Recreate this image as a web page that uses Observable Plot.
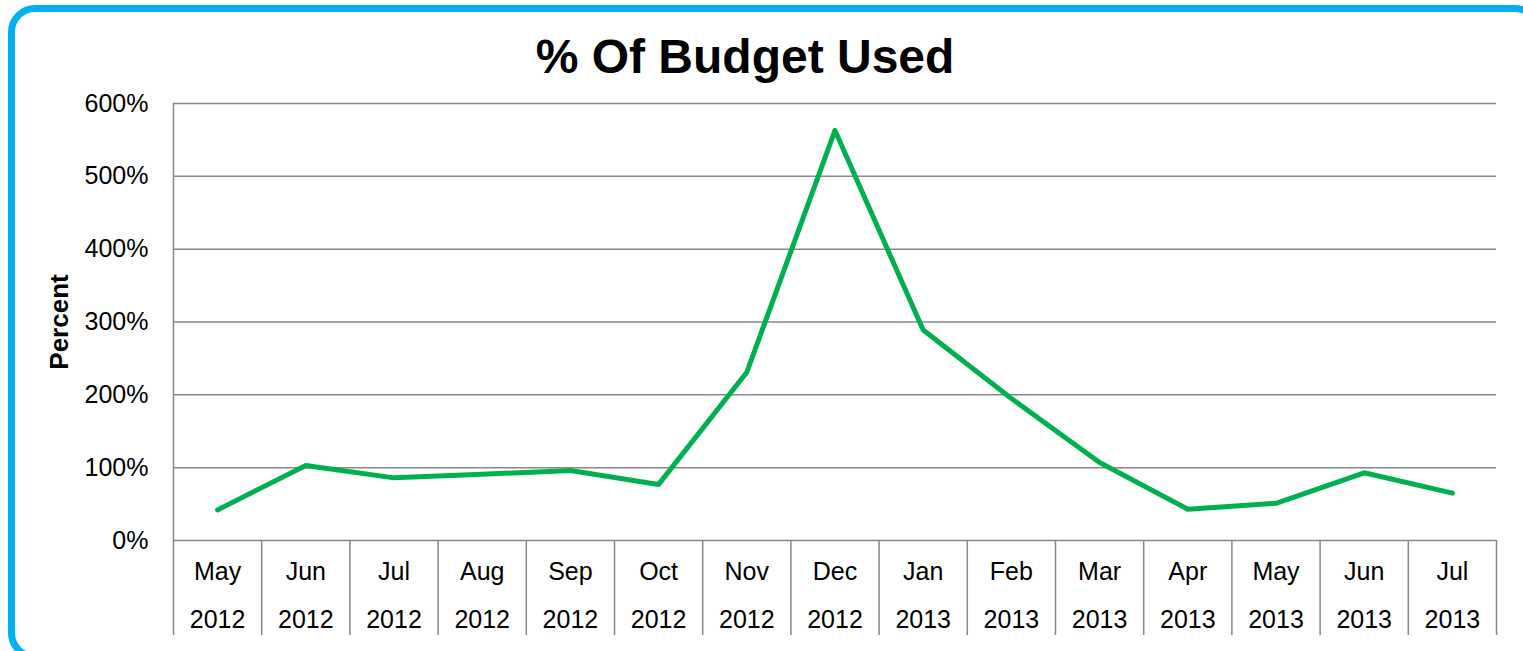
<!DOCTYPE html>
<html>
<head>
<meta charset="utf-8">
<script src="https://cdn.jsdelivr.net/npm/d3@7"></script>
<script src="https://cdn.jsdelivr.net/npm/@observablehq/plot@0.6"></script>
<style>
  html, body { margin: 0; padding: 0; background: #fff; overflow: hidden; }
  #wrap { position: relative; width: 1523px; height: 651px; overflow: hidden; font-family: "Liberation Sans", Arial, sans-serif; }
  #chart { position: absolute; left: 0; top: 0; }
  #border { position: absolute; left: 8px; top: 5px; width: 1520px; height: 641px; border: 7px solid #00B0F0; border-radius: 27px; pointer-events: none; box-sizing: content-box; }
  #title { position: absolute; left: 0; top: 33px; width: 1490px; text-align: center; font-size: 48px; line-height: 48px; font-weight: bold; color: #000; }
</style>
</head>
<body>
<div id="wrap">
  <div id="chart"></div>
  <div id="border"></div>
  <div id="title">% Of Budget Used</div>
</div>
<script>
const months = ["May", "Jun", "Jul", "Aug", "Sep", "Oct", "Nov", "Dec", "Jan", "Feb", "Mar", "Apr", "May", "Jun", "Jul"];
const years = ["2012", "2012", "2012", "2012", "2012", "2012", "2012", "2012", "2013", "2013", "2013", "2013", "2013", "2013", "2013"];
const percentUsed = [42, 103, 86, 91, 96, 77, 231, 563, 289, 195, 107, 43, 51, 93, 65];
const yTicks = [0, 100, 200, 300, 400, 500, 600];

const idx = months.map((_, i) => i);
const edges = d3.range(-0.5, months.length, 1);

const font = "'Liberation Sans', Arial, sans-serif";

const chart = Plot.plot({
  width: 1523,
  height: 651,
  marginLeft: 173,
  marginRight: 27,
  marginTop: 103,
  marginBottom: 111,
  style: { background: "transparent", fontFamily: font, color: "#000" },
  x: { type: "linear", domain: [-0.5, months.length - 0.5], axis: null },
  y: { domain: [0, 600], axis: null },
  marks: [
    Plot.gridY(yTicks, { stroke: "#888", strokeOpacity: 1, strokeWidth: 1.5 }),
    Plot.ruleX([-0.5], { stroke: "#888", strokeWidth: 1.5 }),
    Plot.axisX({ ticks: edges, tickSize: 95, tickFormat: () => "", stroke: "#888", strokeWidth: 1.5, label: null }),
    Plot.axisY({ ticks: yTicks, tickSize: 0, tickPadding: 25, tickFormat: d => d + "%", fontSize: 25, label: null }),
    Plot.text(idx, { x: d => d, text: d => months[d], frameAnchor: "bottom", dy: 31, lineAnchor: "middle", fontSize: 25, fill: "#000" }),
    Plot.text(idx, { x: d => d, text: d => years[d], frameAnchor: "bottom", dy: 79, lineAnchor: "middle", fontSize: 25, fill: "#000" }),
    Plot.text(["Percent"], { text: d => d, frameAnchor: "left", dx: -114, rotate: -90, textAnchor: "middle", lineAnchor: "middle", fontWeight: "bold", fontSize: 26, fill: "#000" }),
    Plot.lineY(percentUsed, { x: (d, i) => i, y: d => d, stroke: "#00B050", strokeWidth: 5, strokeLinejoin: "round", strokeLinecap: "round" })
  ]
});
document.getElementById("chart").appendChild(chart);
</script>
</body>
</html>
